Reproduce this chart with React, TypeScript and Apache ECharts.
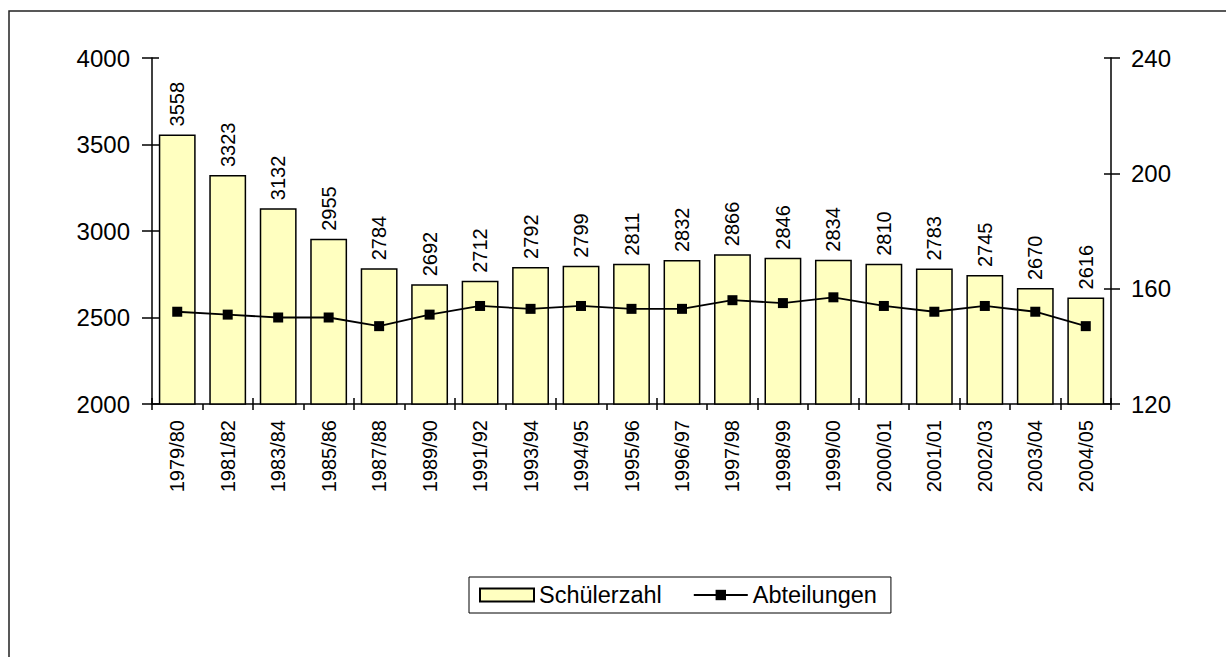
import React, { useEffect, useRef } from "react";
import * as echarts from "echarts";

const categories = [
  "1979/80", "1981/82", "1983/84", "1985/86", "1987/88", "1989/90", "1991/92",
  "1993/94", "1994/95", "1995/96", "1996/97", "1997/98", "1998/99", "1999/00",
  "2000/01", "2001/01", "2002/03", "2003/04", "2004/05",
];
const schuelerzahl = [
  3558, 3323, 3132, 2955, 2784, 2692, 2712, 2792, 2799, 2811, 2832, 2866, 2846,
  2834, 2810, 2783, 2745, 2670, 2616,
];
const abteilungen = [
  152, 151, 150, 150, 147, 151, 154, 153, 154, 153, 153, 156, 155, 157, 154,
  152, 154, 152, 147,
];
const leftTicks = { min: 2000, max: 4000, interval: 500 };
const rightTicks = { min: 120, max: 240, interval: 40 };

const FONT = "'Liberation Sans', Arial, sans-serif";

export default function App() {
  const ref = useRef<HTMLDivElement>(null);
  useEffect(() => {
    if (!ref.current) return;
    const chart = echarts.init(ref.current, null, { renderer: "svg" });
    const axisLine = { show: true, lineStyle: { color: "#000", width: 1.5 } };
    chart.setOption({
      animation: false,
      backgroundColor: "#fff",
      textStyle: { fontFamily: FONT, color: "#000" },
      grid: { left: 152, top: 58, right: 115, bottom: 253, containLabel: false },
      graphic: [
        {
          type: "rect",
          shape: { x: 9, y: 11, width: 1400, height: 800 },
          style: { fill: "none", stroke: "#222", lineWidth: 1.5 },
          silent: true,
          z: -10,
        },
      ],
      legend: {
        left: 469,
        top: 577,
        padding: [6, 14, 6, 10],
        borderColor: "#000",
        borderWidth: 1,
        itemWidth: 54,
        itemHeight: 13,
        itemGap: 31,
        textStyle: { fontFamily: FONT, fontSize: 23.5, color: "#000" },
        data: [
          { name: "Schülerzahl", icon: "rect" },
          { name: "Abteilungen" },
        ],
      },
      xAxis: [
        {
          type: "category",
          data: categories,
          boundaryGap: true,
          axisLine,
          axisTick: { show: true, alignWithLabel: false, length: 6, lineStyle: { color: "#000", width: 1.5 } },
          axisLabel: { rotate: 90, fontSize: 20, margin: 16, color: "#000", fontFamily: FONT },
          splitLine: { show: false },
        },
        {
          type: "category",
          data: categories,
          position: "bottom",
          boundaryGap: true,
          axisLine: { show: false },
          axisTick: { show: true, inside: true, alignWithLabel: false, length: 6, lineStyle: { color: "#000", width: 1.5 } },
          axisLabel: { show: false },
          splitLine: { show: false },
        },
      ],
      yAxis: [
        {
          type: "value",
          position: "left",
          ...leftTicks,
          axisLine,
          axisTick: { show: true, length: 10, lineStyle: { color: "#000", width: 1.5 } },
          axisLabel: { fontSize: 24, margin: 22, color: "#000", fontFamily: FONT, formatter: (v: number) => String(v) },
          splitLine: { show: false },
        },
        {
          type: "value",
          position: "right",
          ...rightTicks,
          axisLine,
          axisTick: { show: true, length: 9, lineStyle: { color: "#000", width: 1.5 } },
          axisLabel: { fontSize: 24, margin: 20, color: "#000", fontFamily: FONT, formatter: (v: number) => String(v) },
          splitLine: { show: false },
        },
        {
          type: "value",
          position: "left",
          ...leftTicks,
          axisLine: { show: false },
          axisTick: { show: true, inside: true, length: 7, lineStyle: { color: "#000", width: 1.5 } },
          axisLabel: { show: false },
          splitLine: { show: false },
        },
        {
          type: "value",
          position: "right",
          ...rightTicks,
          axisLine: { show: false },
          axisTick: { show: true, inside: true, length: 7, lineStyle: { color: "#000", width: 1.5 } },
          axisLabel: { show: false },
          splitLine: { show: false },
        },
      ],
      series: [
        {
          name: "Schülerzahl",
          type: "bar",
          xAxisIndex: 0,
          yAxisIndex: 0,
          data: schuelerzahl,
          barCategoryGap: "27%",
          itemStyle: { color: "#FFFFC0", borderColor: "#000", borderWidth: 1.5 },
          label: {
            show: true,
            position: "top",
            rotate: 90,
            align: "left",
            verticalAlign: "middle",
            distance: 8,
            fontSize: 20,
            color: "#000",
            fontFamily: FONT,
          },
          z: 2,
        },
        {
          name: "Abteilungen",
          type: "line",
          xAxisIndex: 0,
          yAxisIndex: 1,
          data: abteilungen,
          symbol: "rect",
          symbolSize: 10,
          lineStyle: { color: "#000", width: 1.8 },
          itemStyle: { color: "#000" },
          z: 3,
        },
      ],
    });
    return () => chart.dispose();
  }, []);
  return (
    <div
      ref={ref}
      style={{ position: "fixed", left: 0, top: 0, width: 1226, height: 657, background: "#fff" }}
    />
  );
}
